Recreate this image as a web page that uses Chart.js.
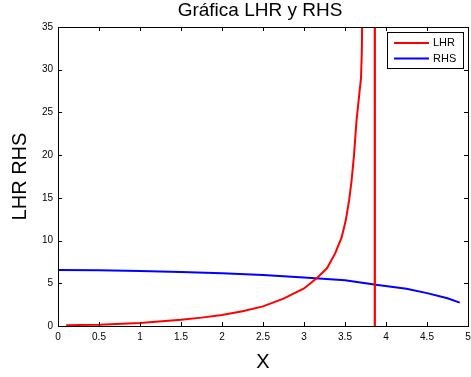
<!DOCTYPE html>
<html>
<head>
<meta charset="utf-8">
<script src="https://cdn.jsdelivr.net/npm/chart.js@4/dist/chart.umd.min.js"></script>
<style>
  html, body { margin: 0; padding: 0; background: #fff; }
</style>
</head>
<body>
<canvas id="plot" width="471" height="377"></canvas>
<script>
// LHR curve (red), runs off to the asymptote near x = 3.86
const lhrX = [0.1, 0.5, 1, 1.5, 1.75, 2, 2.25, 2.5, 2.75, 3, 3.155, 3.28, 3.38, 3.46, 3.51, 3.55, 3.58, 3.61, 3.64, 3.675, 3.695, 3.705, 3.71, 3.75, 3.8, 3.86, 3.865];
const lhrY = [0.1, 0.15, 0.35, 0.72, 0.98, 1.3, 1.72, 2.3, 3.2, 4.4, 5.6, 6.75, 8.5, 10.4, 12.4, 14.7, 17, 20, 24, 27.2, 29, 32, 36, 80, 250, 900, -900];

// RHS curve (blue)
const rhsX = [0, 0.5, 1, 1.5, 2, 2.5, 3, 3.5, 3.9, 4.25, 4.5, 4.75, 4.9];
const rhsY = [6.55, 6.52, 6.45, 6.33, 6.17, 5.96, 5.68, 5.36, 4.8, 4.35, 3.85, 3.25, 2.73];

const xTicks = [0, 0.5, 1, 1.5, 2, 2.5, 3, 3.5, 4, 4.5, 5];
const yTicks = [0, 5, 10, 15, 20, 25, 30, 35];

const FONT = '"Liberation Sans", Arial, sans-serif';

const toPoints = (xs, ys) => xs.map((x, i) => ({ x, y: ys[i] }));

// box around the plot, inward ticks on all four sides, title and legend
const framePlugin = {
    id: 'frame',
    afterDraw(chart) {
        const { ctx, chartArea: a, scales } = chart;
        ctx.save();
        ctx.strokeStyle = '#000';
        ctx.lineWidth = 1;
        ctx.strokeRect(Math.round(a.left) + 0.5, Math.round(a.top) + 0.5,
            Math.round(a.right - a.left), Math.round(a.bottom - a.top));

        ctx.beginPath();
        xTicks.forEach(v => {
            const px = Math.round(scales.x.getPixelForValue(v)) + 0.5;
            ctx.moveTo(px, a.bottom); ctx.lineTo(px, a.bottom - 4);
            ctx.moveTo(px, a.top); ctx.lineTo(px, a.top + 4);
        });
        yTicks.forEach(v => {
            const py = Math.round(scales.y.getPixelForValue(v)) + 0.5;
            ctx.moveTo(a.left, py); ctx.lineTo(a.left + 4, py);
            ctx.moveTo(a.right, py); ctx.lineTo(a.right - 4, py);
        });
        ctx.stroke();

        // title
        ctx.fillStyle = '#000';
        ctx.font = '19px ' + FONT;
        ctx.textAlign = 'center';
        ctx.textBaseline = 'middle';
        ctx.fillText('Gráfica LHR y RHS', (a.left + a.right) / 2 - 3, 11);

        // legend
        const bx = Math.round(a.right) - 81, by = Math.round(a.top) + 5;
        ctx.fillStyle = '#fff';
        ctx.fillRect(bx, by, 76, 36);
        ctx.strokeRect(bx + 0.5, by + 0.5, 76, 36);
        ctx.font = '11px ' + FONT;
        ctx.textAlign = 'left';
        chart.data.datasets.forEach((ds, i) => {
            const ry = by + 11 + i * 15.5;
            ctx.strokeStyle = ds.borderColor;
            ctx.lineWidth = 2;
            ctx.beginPath();
            ctx.moveTo(bx + 7, ry); ctx.lineTo(bx + 42, ry);
            ctx.stroke();
            ctx.fillStyle = '#000';
            ctx.fillText(ds.label, bx + 46, ry);
        });
        ctx.restore();
    }
};

new Chart(document.getElementById('plot'), {
    type: 'line',
    data: {
        datasets: [
            {
                label: 'LHR',
                data: toPoints(lhrX, lhrY),
                borderColor: '#ff0000',
                borderWidth: 2,
                pointRadius: 0,
                tension: 0
            },
            {
                label: 'RHS',
                data: toPoints(rhsX, rhsY),
                borderColor: '#0000ff',
                borderWidth: 2,
                pointRadius: 0,
                tension: 0
            }
        ]
    },
    options: {
        responsive: false,
        animation: false,
        layout: { padding: { top: 27, right: 3, left: 0, bottom: 0 } },
        plugins: {
            legend: { display: false },
            tooltip: { enabled: false },
            title: { display: false }
        },
        scales: {
            x: {
                type: 'linear',
                min: 0,
                max: 5,
                afterBuildTicks: s => { s.ticks = xTicks.map(v => ({ value: v })); },
                afterFit: s => { s.height = 51; s.paddingLeft = 0; s.paddingRight = 0; },
                grid: { display: false, drawTicks: false },
                border: { display: false },
                ticks: {
                    color: '#000',
                    padding: 5,
                    maxRotation: 0,
                    font: { family: FONT, size: 10 },
                    callback: v => String(v)
                },
                title: {
                    display: true,
                    text: 'X',
                    color: '#000',
                    font: { family: FONT, size: 20 },
                    padding: { top: 0, bottom: 3 }
                }
            },
            y: {
                min: 0,
                max: 35,
                afterBuildTicks: s => { s.ticks = yTicks.map(v => ({ value: v })); },
                afterFit: s => { s.width = 58; },
                grid: { display: false, drawTicks: false },
                border: { display: false },
                ticks: {
                    color: '#000',
                    padding: 5,
                    font: { family: FONT, size: 10 },
                    callback: v => String(v)
                },
                title: {
                    display: true,
                    text: 'LHR RHS',
                    color: '#000',
                    font: { family: FONT, size: 20 },
                    padding: { top: 8, bottom: 0 }
                }
            }
        }
    },
    plugins: [framePlugin]
});
</script>
</body>
</html>
